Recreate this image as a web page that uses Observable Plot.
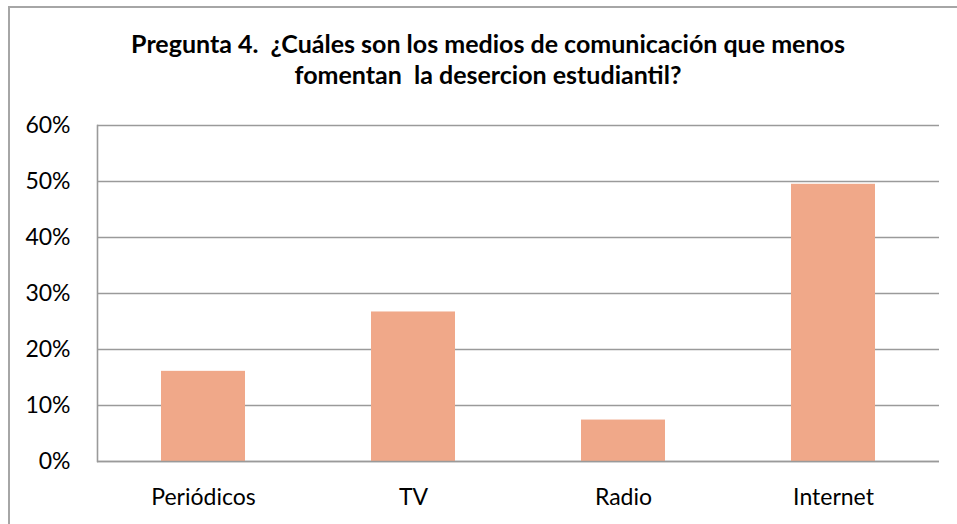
<!DOCTYPE html>
<html>
<head>
<meta charset="utf-8">
<script src="https://cdn.jsdelivr.net/npm/d3@7"></script>
<script src="https://cdn.jsdelivr.net/npm/@observablehq/plot@0.6"></script>
<style>
  html, body { margin: 0; padding: 0; background: #fff; }
  #wrap { position: relative; width: 957px; height: 524px; overflow: hidden; }
  #frame { position: absolute; left: 8px; top: 6px; width: 1000px; height: 600px;
           border-top: 2px solid #a6a6a6; border-left: 2px solid #a6a6a6; box-sizing: border-box; }
  #title { position: absolute; left: 0; top: 28px; width: 976px; text-align: center;
           font-family: Lato, sans-serif; font-weight: bold; font-size: 25px;
           line-height: 31px; color: #000; }
  #chart { position: absolute; left: 0; top: 100px; }
</style>
</head>
<body>
<div id="wrap">
  <div id="frame"></div>
  <div id="title">Pregunta 4.&nbsp; ¿Cuáles son los medios de comunicación que menos<br>fomentan&nbsp; la desercion estudiantil?</div>
  <div id="chart"></div>
</div>
<script>
const categories = ["Periódicos", "TV", "Radio", "Internet"];
const values = [0.161, 0.267, 0.074, 0.495];
const yTicks = [0, 0.1, 0.2, 0.3, 0.4, 0.5, 0.6];

const data = categories.map((c, i) => ({category: c, value: values[i]}));

const plot = Plot.plot({
  width: 957,
  height: 424,
  marginTop: 25,
  marginBottom: 63,
  marginLeft: 97,
  marginRight: 18,
  style: {fontFamily: "Lato, sans-serif", fontSize: "23px", color: "#000", background: "transparent"},
  x: {domain: categories, paddingInner: 0.6, paddingOuter: 0.3},
  y: {domain: [0, 0.6]},
  marks: [
    Plot.gridY(yTicks, {stroke: "#9a9a9a", strokeOpacity: 1, strokeWidth: 1.6}),
    Plot.barY(data, {x: "category", y: "value", fill: "#F0A889"}),
    Plot.frame({anchor: "left", stroke: "#9a9a9a", strokeWidth: 1.6}),
    Plot.ruleY([0], {stroke: "#9a9a9a", strokeWidth: 1.6}),
    Plot.axisY(yTicks, {tickFormat: d => Math.round(d * 100) + "%", label: null, tickSize: 0, tickPadding: 27, fontSize: 23, fill: "#000"}),
    Plot.axisX({label: null, tickSize: 0, tickPadding: 27, fontSize: 23, fill: "#000"})
  ]
});
document.getElementById("chart").appendChild(plot);
</script>
</body>
</html>
